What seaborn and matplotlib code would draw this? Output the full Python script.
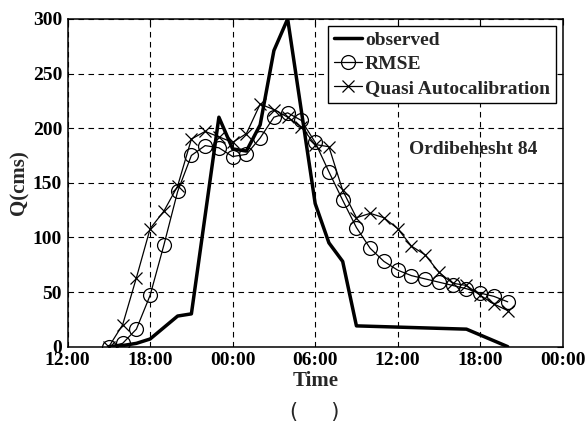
import matplotlib
matplotlib.use("Agg")
import matplotlib.pyplot as plt
import seaborn as sns
import pandas as pd

# ---- data (hours counted from 12:00 of day 1) ----
obs_hours = [3, 4, 5, 6, 8, 9, 11, 12, 13, 14, 15, 16, 18, 19, 20, 21, 29, 32]
obs_vals = [0, 1, 3, 7, 28, 30, 210, 181, 179, 203, 271, 300, 131, 95, 78, 19, 16, 0]

sim_hours = list(range(3, 33))
rmse_vals = [0, 3, 16, 47, 93, 142, 175, 184, 182, 174, 176, 191, 210, 214, 207,
             187, 160, 134, 109, 90, 78, 70, 65, 62, 59, 56, 53, 49, 46, 41]
quasi_vals = [0, 20, 63, 108, 124, 147, 190, 197, 192, 187, 195, 222, 217, 210, 201,
              185, 183, 143, 118, 122, 118, 108, 92, 84, 68, 58, 56, 47, 39, 33]

x_ticks = [0, 6, 12, 18, 24, 30, 36]
x_tick_labels = ["12:00", "18:00", "00:00", "06:00", "12:00", "18:00", "00:00"]
y_ticks = [0, 50, 100, 150, 200, 250, 300]

series_labels = ["observed", "RMSE", "Quasi Autocalibration"]
annotation = "Ordibehesht 84"

# ---- style ----
sns.set_theme(style="white")
plt.rcParams["font.family"] = ["Liberation Serif", "DejaVu Serif"]
plt.rcParams["font.weight"] = "bold"

fig = plt.figure(figsize=(5.88, 4.29), dpi=100)
ax = fig.add_axes([0.115, 0.192, 0.842, 0.764])

obs_df = pd.DataFrame({"h": obs_hours, "q": obs_vals})
rmse_df = pd.DataFrame({"h": sim_hours, "q": rmse_vals})
quasi_df = pd.DataFrame({"h": sim_hours, "q": quasi_vals})

sns.lineplot(data=obs_df, x="h", y="q", ax=ax, color="black", linewidth=2.5,
             label=series_labels[0], estimator=None, sort=False)
sns.lineplot(data=rmse_df, x="h", y="q", ax=ax, color="black", linewidth=0.9,
             marker="o", markersize=10, markerfacecolor="none",
             markeredgecolor="black", markeredgewidth=0.9,
             label=series_labels[1], estimator=None, sort=False)
sns.lineplot(data=quasi_df, x="h", y="q", ax=ax, color="black", linewidth=0.9,
             marker="x", markersize=8, markeredgecolor="black", markeredgewidth=0.9,
             label=series_labels[2], estimator=None, sort=False)

ax.set_xlim(0, 36)
ax.set_ylim(0, 300)
ax.set_xticks(x_ticks)
ax.set_xticklabels(x_tick_labels)
ax.set_yticks(y_ticks)

ax.grid(True, color="black", linestyle=(0, (5, 4)), linewidth=0.8)
for s in ax.spines.values():
    s.set_color("black")
    s.set_linewidth(1.1)

ax.tick_params(direction="in", length=4, width=0.8, top=True, right=True,
               labelsize=14, pad=4, colors="black")
for lab in ax.get_xticklabels() + ax.get_yticklabels():
    lab.set_fontweight("bold")

ax.set_xlabel("Time", fontsize=15, fontweight="bold", labelpad=1)
ax.set_ylabel("Q(cms)", fontsize=15, fontweight="bold", labelpad=2)

leg = ax.legend(loc="upper right", frameon=True, fancybox=False,
                edgecolor="black", handlelength=1.45, handletextpad=0.15,
                labelspacing=0.32, borderpad=0.3, borderaxespad=0.35,
                prop={"weight": "bold", "size": 14})
leg.get_frame().set_linewidth(1.0)
leg.get_frame().set_alpha(1)

ax.text(29.5, 180, annotation, fontsize=14, fontweight="bold",
        ha="center", va="center")

fig.text(0.536, 0.04, "(     )", fontsize=15, ha="center", va="center",
         family="DejaVu Sans", fontweight="normal")

fig.savefig("out.png", dpi=100)
